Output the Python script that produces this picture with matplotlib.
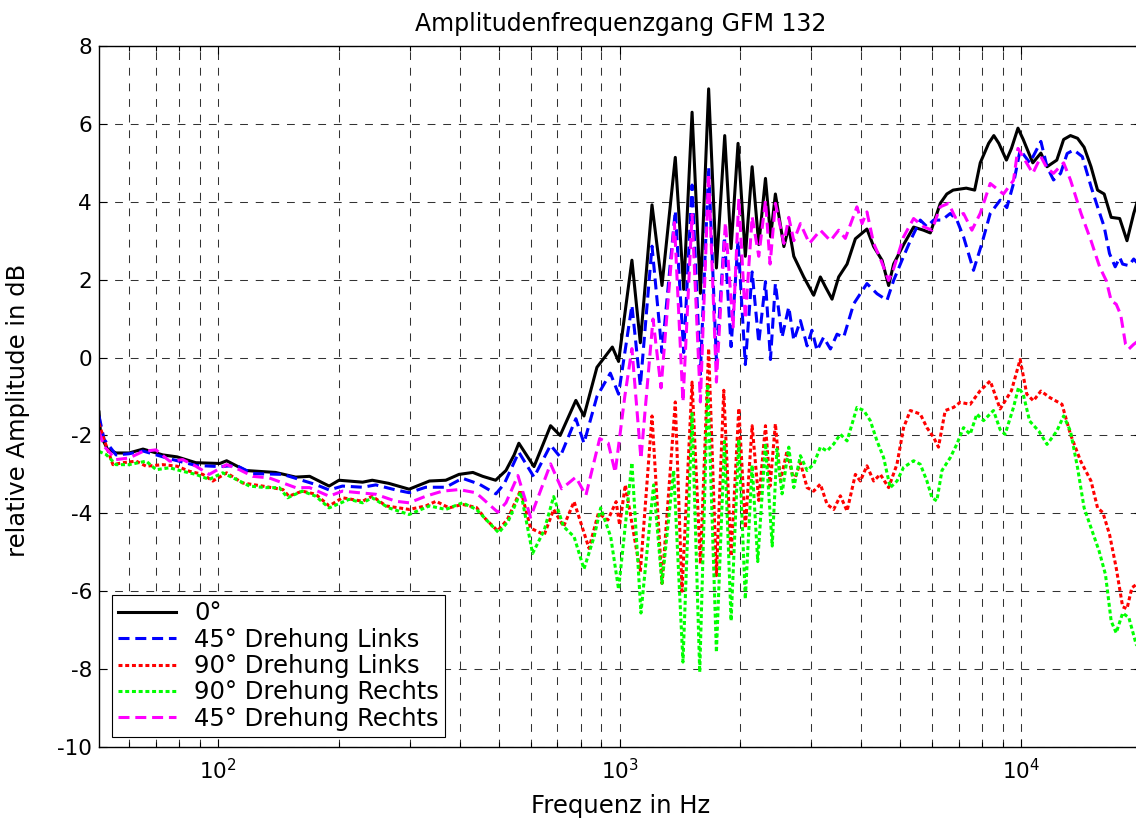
import matplotlib
matplotlib.use('Agg')
import matplotlib.pyplot as plt
from matplotlib.ticker import LogLocator, LogFormatterMathtext, NullFormatter, FixedLocator

plt.rcParams['font.family'] = ['DejaVu Sans']
plt.rcParams['mathtext.fontset'] = 'dejavusans'
plt.rcParams['axes.unicode_minus'] = False

title = "Amplitudenfrequenzgang GFM 132"
xlabel = "Frequenz in Hz"
ylabel = "relative Amplitude in dB"
labels = ["0°", "45° Drehung Links", "90° Drehung Links", "90° Drehung Rechts", "45° Drehung Rechts"]
yticks = [-10, -8, -6, -4, -2, 0, 2, 4, 6, 8]

f_0 = [50.5, 51, 53, 55.7, 60, 65, 72.8, 79, 88, 101, 105, 117, 139, 156, 169, 189, 200, 229, 242, 266,
       299, 336, 369, 398, 431, 456, 491, 521, 546, 561, 612, 673, 711, 778, 815, 878, 959, 994, 1073, 1126,
       1204, 1275, 1376, 1444, 1515, 1589, 1666, 1742, 1827, 1895, 1972, 2056, 2138, 2221, 2308, 2377, 2443, 2565, 2638, 2715,
       2874, 3043, 3162, 3253, 3381, 3512, 3685, 3865, 4130, 4292, 4503, 4677, 4813, 5096, 5397, 5715, 5940, 6290, 6530, 6770,
       7300, 7660, 7910, 8300, 8550, 8800, 9190, 9460, 9820, 10120, 10690, 11200, 11600, 12270, 12760, 13270, 13820, 14350, 14930, 15500,
       16100, 16760, 17600, 18350, 19070, 20000]
db_0 = [-1.4, -2.0, -2.35, -2.45, -2.45, -2.35, -2.5, -2.55, -2.7, -2.72, -2.65, -2.9, -2.95, -3.07, -3.05, -3.3, -3.15, -3.2, -3.15, -3.23,
        -3.38, -3.17, -3.15, -3.0, -2.95, -3.05, -3.15, -2.9, -2.5, -2.2, -2.8, -1.75, -2.0, -1.1, -1.5, -0.25, 0.27, -0.1, 2.5, 0.38,
        3.92, 1.85, 5.14, 1.75, 6.3, 1.65, 6.9, 2.3, 5.7, 2.8, 5.5, 2.6, 4.9, 2.9, 4.6, 3.1, 4.2, 2.85, 3.35, 2.6,
        2.07, 1.6, 2.07, 1.82, 1.5, 2.07, 2.4, 3.05, 3.3, 2.85, 2.5, 1.85, 2.4, 2.9, 3.35, 3.27, 3.2, 3.96, 4.2, 4.3,
        4.35, 4.3, 5.0, 5.5, 5.7, 5.5, 5.07, 5.37, 5.89, 5.6, 5.0, 5.25, 4.9, 5.07, 5.6, 5.7, 5.63, 5.4, 4.9, 4.3,
        4.2, 3.6, 3.57, 3.0, 3.7, 4.4]

f_45L = [50.5, 52, 55.7, 60, 65, 75.7, 88, 101, 111, 122, 145, 175, 189, 204, 229, 247, 277, 299, 329, 369,
         406, 447, 492, 516, 561, 612, 673, 711, 778, 815, 878, 948, 994, 1073, 1126, 1204, 1275, 1376, 1444, 1515,
         1589, 1666, 1742, 1824, 1895, 1972, 2056, 2138, 2221, 2308, 2375, 2443, 2538, 2638, 2715, 2820, 2930, 3013, 3102, 3221,
         3350, 3479, 3614, 3828, 3977, 4130, 4375, 4634, 4813, 5049, 5296, 5608, 5826, 6053, 6350, 6660, 6918, 7187, 7610, 7985,
         8375, 8866, 9213, 9572, 9943, 10510, 11200, 11600, 12040, 12540, 13020, 13530, 14200, 14930, 15500, 16100, 16600, 17150, 17600, 17900,
         18550, 19070, 20000]
db_45L = [-1.5, -2.1, -2.5, -2.47, -2.4, -2.6, -2.77, -2.8, -2.77, -2.98, -3.0, -3.26, -3.4, -3.3, -3.33, -3.27, -3.4, -3.47, -3.33, -3.33,
          -3.1, -3.25, -3.5, -3.24, -2.43, -3.07, -2.25, -2.55, -1.57, -2.2, -1.0, -0.4, -0.94, 1.34, -0.73, 2.86, 0.13, 3.77, 0.13, 4.43,
          -0.43, 4.89, -0.08, 3.1, 0.28, 3.0, -0.18, 2.2, 0.38, 1.95, -0.05, 1.9, 0.52, 1.3, 0.44, 0.95, 0.3, 0.7, 0.18, 0.52,
          0.22, 0.6, 0.52, 1.38, 1.64, 1.9, 1.64, 1.47, 1.98, 2.5, 3.0, 3.53, 3.36, 3.53, 3.53, 3.7, 3.53, 3.1, 2.24, 2.93,
          3.7, 4.04, 3.85, 4.47, 5.33, 5.0, 5.55, 4.9, 4.56, 4.73, 5.24, 5.33, 5.16, 4.39, 3.87, 3.36, 2.67, 2.33, 2.57, 2.4,
          2.36, 2.53, 2.3]

f_90L = [50.5, 52, 54.7, 57.9, 62.5, 66.2, 72.8, 79, 84.8, 91.6, 97, 105, 115, 129, 145, 150, 162, 175, 189, 204,
         229, 242, 262, 299, 329, 349, 376, 406, 440, 464, 497, 526, 567, 600, 649, 685, 725, 770, 839, 885,
         935, 980, 1000, 1033, 1126, 1204, 1275, 1376, 1430, 1515, 1589, 1666, 1742, 1817, 1895, 1981, 2056, 2138, 2221, 2308,
         2370, 2443, 2515, 2612, 2715, 2820, 2930, 3043, 3162, 3286, 3413, 3546, 3685, 3865, 3977, 4130, 4292, 4460, 4677, 4906,
         5096, 5296, 5608, 5826, 6053, 6225, 6470, 6787, 7047, 7465, 7907, 8375, 8866, 9460, 9943, 10330, 10730, 11200, 11800, 12640,
         13270, 14070, 14930, 15500, 15980, 16600, 17250, 17900, 18350, 18870, 19350, 20000]
db_90L = [-1.69, -2.11, -2.75, -2.7, -2.66, -2.79, -2.75, -2.79, -2.92, -3.0, -3.17, -2.96, -3.22, -3.3, -3.39, -3.56, -3.43, -3.51, -3.81, -3.6,
          -3.69, -3.56, -3.81, -3.9, -3.81, -3.69, -3.86, -3.77, -3.85, -4.15, -4.45, -4.15, -3.4, -4.38, -4.55, -3.9, -4.34, -3.7, -4.9, -4.0,
          -4.17, -3.7, -4.3, -3.27, -5.5, -1.5, -5.8, -1.14, -6.0, -0.63, -5.3, 0.23, -5.6, -0.84, -5.1, -1.3, -4.38, -1.75, -3.67, -1.75,
          -3.3, -1.7, -3.17, -2.4, -3.17, -2.7, -3.34, -3.43, -3.25, -3.77, -3.9, -3.55, -3.94, -3.0, -3.17, -2.78, -3.17, -3.0, -3.34, -2.74,
          -1.8, -1.36, -1.45, -1.8, -2.05, -2.3, -1.36, -1.28, -1.15, -1.2, -0.85, -0.6, -1.32, -0.85, -0.05, -0.94, -1.11, -0.86, -1.03, -1.2,
          -1.97, -2.66, -3.17, -3.86, -3.98, -4.54, -5.4, -6.4, -6.45, -5.91, -5.83, -6.0]

f_90R = [50.5, 52.6, 55.7, 60, 66.2, 70.1, 75.7, 81.6, 88, 95, 102.7, 111, 119.7, 131.6, 142, 149, 162, 175, 189, 212,
         229, 242, 266, 299, 336, 369, 406, 440, 464, 500, 528, 567, 607, 649, 685, 725, 770, 815, 864, 897,
         950, 994, 1073, 1130, 1215, 1275, 1363, 1438, 1515, 1583, 1658, 1742, 1824, 1895, 1981, 2056, 2138, 2208, 2308, 2399,
         2465, 2538, 2638, 2715, 2820, 2930, 3043, 3162, 3286, 3413, 3546, 3685, 3900, 4055, 4210, 4375, 4545, 4720, 4906, 5096,
         5397, 5608, 5826, 5997, 6166, 6350, 6660, 6918, 7187, 7465, 7757, 8060, 8533, 8866, 9120, 9572, 9850, 10120, 10500, 11070,
         11600, 12270, 12760, 13270, 13820, 14350, 14930, 15640, 16220, 16760, 17250, 17900, 18550, 19350, 20000]
db_90R = [-2.41, -2.49, -2.75, -2.75, -2.66, -2.88, -2.83, -2.92, -3.0, -3.13, -2.96, -3.13, -3.3, -3.34, -3.34, -3.6, -3.43, -3.56, -3.86, -3.64,
          -3.73, -3.6, -3.86, -4.03, -3.81, -3.9, -3.73, -3.9, -4.15, -4.5, -4.2, -3.45, -5.03, -4.43, -3.57, -4.34, -4.6, -5.43, -4.6, -3.86,
          -4.6, -5.95, -2.7, -6.56, -3.27, -5.8, -2.9, -7.82, -1.44, -8.08, -0.68, -7.57, -2.15, -6.76, -2.1, -6.2, -2.76, -5.24, -2.2, -4.84,
          -2.35, -3.5, -2.3, -3.34, -2.52, -2.9, -2.74, -2.3, -2.4, -2.22, -1.97, -2.14, -1.28, -1.36, -1.62, -2.14, -2.57, -3.34, -3.17, -2.82,
          -2.65, -2.74, -3.17, -3.6, -3.68, -2.9, -2.57, -2.22, -1.8, -1.97, -1.45, -1.62, -1.36, -1.85, -1.97, -1.28, -0.77, -0.94, -1.63, -1.89,
          -2.23, -1.89, -1.5, -1.89, -2.83, -3.86, -4.37, -4.97, -5.57, -6.77, -7.07, -6.56, -6.68, -7.37, -7.5]

f_45R = [50.5, 52, 55.7, 60, 65, 70, 75.7, 81.6, 88, 95, 105, 113, 122, 134, 145, 156, 169, 189, 204, 224,
         247, 277, 299, 329, 362, 398, 438, 451, 497, 521, 558, 600, 673, 717, 778, 824, 892, 937, 975, 1030,
         1073, 1130, 1211, 1268, 1369, 1438, 1515, 1589, 1666, 1742, 1834, 1917, 1981, 2056, 2138, 2221, 2308, 2370, 2443, 2565,
         2638, 2715, 2820, 2969, 3162, 3350, 3512, 3648, 3900, 4016, 4130, 4292, 4460, 4677, 4813, 5096, 5397, 5715, 5997, 6288,
         6596, 6852, 7187, 7540, 7907, 8375, 9036, 9572, 9820, 10690, 11200, 11600, 12040, 12760, 13270, 14100, 14930, 15500, 15700, 16300,
         16760, 17250, 17700, 18200, 18550, 19070, 20000]
db_45R = [-1.9, -2.28, -2.62, -2.58, -2.41, -2.37, -2.66, -2.62, -2.79, -3.0, -2.75, -2.88, -3.05, -3.09, -3.22, -3.34, -3.34, -3.56, -3.43, -3.47,
          -3.51, -3.69, -3.73, -3.56, -3.43, -3.39, -3.47, -3.58, -3.97, -3.73, -3.03, -4.1, -2.73, -3.37, -3.07, -3.54, -2.08, -2.2, -2.95, -1.0,
          0.23, -2.6, 0.99, -0.78, 3.47, -1.14, 3.67, -1.14, 4.73, -0.63, 3.47, 0.78, 4.08, 0.99, 3.62, 2.6, 4.03, 2.4, 3.96, 2.93,
          3.6, 3.0, 3.44, 2.93, 3.27, 3.0, 3.27, 3.06, 3.87, 3.44, 3.74, 2.93, 2.54, 1.98, 2.28, 3.1, 3.57, 3.36, 3.27, 3.87,
          3.96, 3.6, 3.7, 3.27, 3.7, 4.47, 4.2, 4.55, 5.37, 4.73, 5.16, 4.86, 4.73, 5.0, 4.56, 3.7, 3.0, 2.49, 2.32, 1.97,
          1.46, 1.37, 1.1, 0.34, 0.22, 0.34, 0.5]

W, H = 1136, 818
fig = plt.figure(figsize=(W / 100, H / 100), dpi=100)
ax = fig.add_axes([99 / W, (H - 747) / H, 1043 / W, 701 / H])

lw = 2.2
ax.plot(f_0, db_0, color='black', lw=lw, ls='-', label=labels[0])
ax.plot(f_45L, db_45L, color=(0, 0, 1), lw=lw, ls=(0, (3.6, 1.9)), label=labels[1])
ax.plot(f_90L, db_90L, color=(1, 0, 0), lw=lw, ls=(0, (1.3, 0.9)), label=labels[2])
ax.plot(f_90R, db_90R, color=(0, 1, 0), lw=lw, ls=(0, (1.3, 0.9)), label=labels[3])
ax.plot(f_45R, db_45R, color=(1, 0, 1), lw=lw, ls=(0, (3.6, 1.9)), label=labels[4])

ax.set_xscale('log')
ax.set_xlim(50.5, 20000)
ax.set_ylim(-10, 8)
ax.yaxis.set_major_locator(FixedLocator(yticks))
ax.set_yticklabels([str(v) for v in yticks])
ax.xaxis.set_major_locator(LogLocator(base=10, numticks=10))
ax.xaxis.set_major_formatter(LogFormatterMathtext())
ax.xaxis.set_minor_locator(LogLocator(base=10, subs=range(2, 10), numticks=20))
ax.xaxis.set_minor_formatter(NullFormatter())

gls = (0, (7.5, 7.5))
ax.grid(True, which='major', axis='both', ls=gls, lw=0.75, color='#333333')
ax.grid(True, which='minor', axis='x', ls=gls, lw=0.75, color='#333333')
ax.set_axisbelow(True)

ax.tick_params(which='both', direction='in', top=True, right=True, labelsize=15.5, width=0.8)
ax.tick_params(axis='x', which='major', length=5.8, pad=8)
ax.tick_params(axis='y', which='major', length=5.8, pad=5)
ax.tick_params(which='minor', length=3.6)
for s in ax.spines.values():
    s.set_linewidth(1.0)

ax.set_title(title, fontsize=17, pad=11)
ax.set_xlabel(xlabel, fontsize=17.5)
ax.set_ylabel(ylabel, fontsize=17.5)
ax.xaxis.set_label_coords(0.5, -0.067)
ax.yaxis.set_label_coords(-0.066, 0.48)

leg = ax.legend(loc='lower left', bbox_to_anchor=(0.0122, 0.0143), borderaxespad=0,
                fontsize=17.5, handlelength=2.4, handletextpad=0.75, labelspacing=0.1,
                borderpad=0.25, fancybox=False, framealpha=1, edgecolor='black')
leg.get_frame().set_linewidth(0.8)

fig.savefig('out.png', dpi=100)
